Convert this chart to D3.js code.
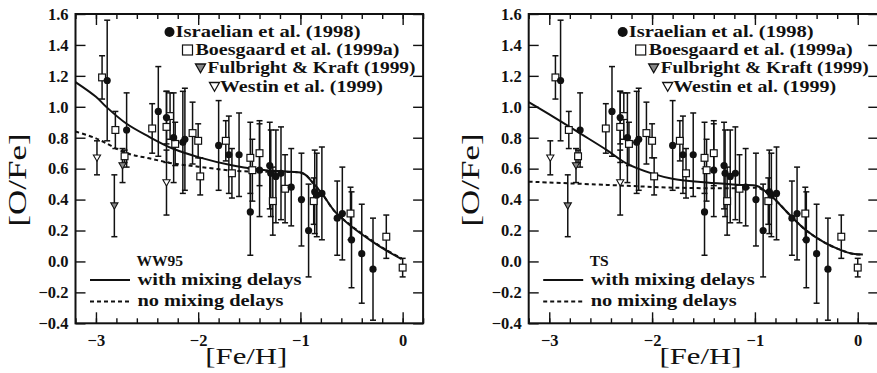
<!DOCTYPE html>
<html lang="en">
<head>
<meta charset="UTF-8">
<title>[O/Fe] vs [Fe/H]</title>
<script src="https://d3js.org/d3.v7.min.js"></script>
<style>
    body { margin: 0; background: #fff; }
    svg { display: block; }
    text { font-family: "Liberation Serif", "DejaVu Serif", serif; fill: #111; }
</style>
</head>
<body>
<div class="viz"></div>
<script>
// observations (same in both panels)
const israelianX = [-2.89, -2.70, -2.39, -2.31, -2.24, -2.15, -2.13, -1.80, -1.70, -1.60, -1.49, -1.40, -1.30, -1.29, -1.24, -1.19, -1.09, -0.99, -0.92, -0.86, -0.84, -0.79, -0.64, -0.59, -0.50, -0.40, -0.29];
const israelianY = [1.17, 0.85, 0.97, 0.93, 0.80, 0.77, 0.79, 0.75, 0.69, 0.69, 0.32, 0.59, 0.62, 0.57, 0.55, 0.57, 0.48, 0.40, 0.20, 0.45, 0.43, 0.44, 0.28, 0.31, 0.14, 0.05, -0.05];
const israelianErr = [0.39, 0.24, 0.29, 0.17, 0.29, 0.33, 0.33, 0.29, 0.25, 0.27, 0.28, 0.30, 0.28, 0.28, 0.30, 0.30, 0.25, 0.30, 0.30, 0.27, 0.27, 0.30, 0.24, 0.30, 0.31, 0.32, 0.33];

const boesgaardX = [-2.94, -2.81, -2.72, -2.45, -2.31, -2.275, -2.225, -2.055, -2.00, -1.98, -1.73, -1.67, -1.49, -1.47, -1.40, -1.27, -1.15, -0.87, -0.51, -0.16, 0.00];
const boesgaardY = [1.19, 0.85, 0.68, 0.86, 0.87, 0.94, 0.76, 0.83, 0.78, 0.55, 0.78, 0.57, 0.67, 0.59, 0.70, 0.39, 0.47, 0.39, 0.31, 0.16, -0.04];
const boesgaardErr = [0.14, 0.12, 0.04, 0.16, 0.23, 0.15, 0.14, 0.20, 0.11, 0.12, 0.13, 0.16, 0.23, 0.20, 0.21, 0.22, 0.22, 0.15, 0.17, 0.14, 0.06];

const fulbrightX = [-2.82, -2.74];
const fulbrightY = [0.36, 0.62];
const fulbrightErr = [0.20, 0.11];

const westinX = [-2.99, -2.31];
const westinY = [0.67, 0.51];
const westinErr = [0.11, 0.21];

// models
const ww95MixX = [-3.2, -3.0, -2.9, -2.7, -2.48, -2.25, -1.99, -1.66, -1.34, -1.1, -1.0, -0.95, -0.88, -0.79, -0.66, -0.5, -0.3, -0.17, -0.01];
const ww95MixY = [1.16, 1.065, 1.00, 0.89, 0.806, 0.73, 0.673, 0.62, 0.59, 0.58, 0.575, 0.56, 0.51, 0.44, 0.32, 0.226, 0.13, 0.075, 0.015];
const ww95NoX = [-3.2, -3.0, -2.7, -2.48, -2.25, -2.0, -1.66, -1.34, -1.1, -1.0, -0.95, -0.88, -0.79, -0.66, -0.5, -0.3, -0.17, -0.01];
const ww95NoY = [0.84, 0.796, 0.70, 0.667, 0.634, 0.613, 0.587, 0.58, 0.578, 0.575, 0.56, 0.51, 0.44, 0.32, 0.23, 0.135, 0.078, 0.02];

const tsMixX = [-3.2, -2.96, -2.70, -2.44, -2.25, -1.99, -1.79, -1.47, -1.15, -0.98, -0.93, -0.82, -0.66, -0.5, -0.33, -0.17, -0.05, 0.05];
const tsMixY = [1.03, 0.935, 0.828, 0.72, 0.634, 0.566, 0.533, 0.51, 0.495, 0.488, 0.47, 0.41, 0.30, 0.20, 0.125, 0.075, 0.05, 0.045];
const tsNoX = [-3.2, -2.44, -1.79, -1.15, -0.98, -0.93, -0.82, -0.66, -0.5, -0.33, -0.17, -0.05, 0.05];
const tsNoY = [0.516, 0.495, 0.477, 0.473, 0.476, 0.465, 0.41, 0.30, 0.20, 0.125, 0.075, 0.05, 0.045];

const xMajor = [-3, -2, -1, 0];
const yTicks = [-0.4, -0.2, 0.0, 0.2, 0.4, 0.6, 0.8, 1.0, 1.2, 1.4, 1.6];

const legendNames = ["Israelian et al. (1998)", "Boesgaard et al. (1999a)", "Fulbright & Kraft (1999)", "Westin et al. (1999)"];

const FONT = '"Liberation Serif", "DejaVu Serif", serif';
const width = 877, height = 373;
const svg = d3.select('.viz').append('svg')
    .attr('width', width)
    .attr('height', height);

const zip = (xs, ys, es) => xs.map((x, i) => ({x: x, y: ys[i], e: es ? es[i] : 0}));

function drawPanel(x0, x1, modelName, mixX, mixY, noX, noY) {
    const x = d3.scaleLinear().domain([-3.2, 0.2]).range([x0, x1]);
    const y = d3.scaleLinear().domain([-0.4, 1.6]).range([323.3, 14]);
    const g = svg.append('g');

    // ticks, all pointing inward
    const minor = d3.range(-3.2, 0.21, 0.2).map(v => Math.round(v * 10) / 10);
    const bottom = g.append('g').attr('transform', `translate(0,${y(-0.4)})`)
        .call(d3.axisBottom(x).tickValues(minor).tickSize(-5).tickFormat(''));
    bottom.append('g').call(d3.axisBottom(x).tickValues(xMajor).tickSize(-11).tickFormat(d3.format('d')));
    const top = g.append('g').attr('transform', `translate(0,${y(1.6)})`)
        .call(d3.axisTop(x).tickValues(minor).tickSize(-5).tickFormat(''));
    top.append('g').call(d3.axisTop(x).tickValues(xMajor).tickSize(-11).tickFormat(''));
    g.append('g').attr('transform', `translate(${x0},0)`)
        .call(d3.axisLeft(y).tickValues(yTicks).tickSize(-10).tickPadding(7).tickFormat(d3.format('.1f')));
    g.append('g').attr('transform', `translate(${x1},0)`)
        .call(d3.axisRight(y).tickValues(yTicks).tickSize(-10).tickFormat(''));

    g.selectAll('.domain').remove();
    g.selectAll('.tick line').attr('stroke', '#111').attr('stroke-width', 1.4);
    g.selectAll('.tick text')
        .style('font-family', FONT)
        .style('font-weight', 'bold')
        .style('font-size', '16.5px')
        .attr('fill', '#111');
    bottom.selectAll('.tick text').attr('dy', '0').attr('y', 23);

    g.append('rect')
        .attr('x', x0).attr('y', y(1.6))
        .attr('width', x1 - x0).attr('height', y(-0.4) - y(1.6))
        .attr('fill', 'none').attr('stroke', '#111').attr('stroke-width', 2);

    // axis titles
    g.append('text')
        .attr('x', (x0 + x1) / 2 - 3).attr('y', 364)
        .attr('text-anchor', 'middle')
        .attr('textLength', 82).attr('lengthAdjust', 'spacingAndGlyphs')
        .style('font-size', '24px')
        .text('[Fe/H]');
    g.append('text')
        .attr('transform', `translate(${x0 - 50},180) rotate(-90)`)
        .attr('text-anchor', 'middle')
        .attr('textLength', 93).attr('lengthAdjust', 'spacingAndGlyphs')
        .style('font-size', '25px')
        .text('[O/Fe]');

    // model curves
    const line = d3.line().x(d => x(d.x)).y(d => y(d.y)).curve(d3.curveCatmullRom);
    g.append('path').datum(zip(noX, noY))
        .attr('d', line).attr('fill', 'none')
        .attr('stroke', '#111').attr('stroke-width', 2).attr('stroke-dasharray', '4,3');
    g.append('path').datum(zip(mixX, mixY))
        .attr('d', line).attr('fill', 'none')
        .attr('stroke', '#111').attr('stroke-width', 2);

    // error bars
    const allPts = [].concat(
        zip(israelianX, israelianY, israelianErr),
        zip(boesgaardX, boesgaardY, boesgaardErr),
        zip(fulbrightX, fulbrightY, fulbrightErr),
        zip(westinX, westinY, westinErr));
    const eb = g.append('g').attr('stroke', '#111').attr('stroke-width', 1.5);
    allPts.forEach(d => {
        const cx = x(d.x), yt = y(d.y + d.e), yb = y(d.y - d.e);
        eb.append('line').attr('x1', cx).attr('x2', cx).attr('y1', yt).attr('y2', yb);
        eb.append('line').attr('x1', cx - 3).attr('x2', cx + 3).attr('y1', yt).attr('y2', yt);
        eb.append('line').attr('x1', cx - 3).attr('x2', cx + 3).attr('y1', yb).attr('y2', yb);
    });

    // symbols
    const tri = s => `M${-s},${-s * 0.8}L${s},${-s * 0.8}L0,${s * 0.95}Z`;
    g.append('g').selectAll('rect').data(zip(boesgaardX, boesgaardY))
        .join('rect')
        .attr('x', d => x(d.x) - 3.4).attr('y', d => y(d.y) - 3.4)
        .attr('width', 6.8).attr('height', 6.8)
        .attr('fill', '#fff').attr('stroke', '#111').attr('stroke-width', 1.2);
    g.append('g').selectAll('path').data(zip(westinX, westinY))
        .join('path')
        .attr('transform', d => `translate(${x(d.x)},${y(d.y)})`)
        .attr('d', tri(3.6))
        .attr('fill', '#fff').attr('stroke', '#111').attr('stroke-width', 1.1);
    g.append('g').selectAll('path').data(zip(fulbrightX, fulbrightY))
        .join('path')
        .attr('transform', d => `translate(${x(d.x)},${y(d.y)})`)
        .attr('d', tri(3.6))
        .attr('fill', '#888').attr('stroke', '#111').attr('stroke-width', 1.1);
    g.append('g').selectAll('circle').data(zip(israelianX, israelianY))
        .join('circle')
        .attr('cx', d => x(d.x)).attr('cy', d => y(d.y)).attr('r', 3.6)
        .attr('fill', '#111');

    // legend, upper
    const lw = [185, 204, 208, 163];
    const lTextX = [100, 120, 132, 144.5];
    const lMarkX = [94, 112, 125, 139];
    const lBase = [37, 55, 73, 91.5];
    legendNames.forEach((name, i) => {
        g.append('text')
            .attr('x', x0 + lTextX[i]).attr('y', lBase[i])
            .attr('textLength', lw[i]).attr('lengthAdjust', 'spacingAndGlyphs')
            .style('font-size', '16px').style('font-weight', 'bold')
            .text(name);
    });
    const my = lBase.map(b => b - 5);
    g.append('circle').attr('cx', x0 + lMarkX[0]).attr('cy', my[0]).attr('r', 5).attr('fill', '#111');
    g.append('rect').attr('x', x0 + lMarkX[1] - 5).attr('y', my[1] - 5)
        .attr('width', 10).attr('height', 10)
        .attr('fill', '#fff').attr('stroke', '#111').attr('stroke-width', 1.2);
    g.append('path').attr('transform', `translate(${x0 + lMarkX[2]},${my[2]})`)
        .attr('d', tri(5)).attr('fill', '#888').attr('stroke', '#111').attr('stroke-width', 1.3);
    g.append('path').attr('transform', `translate(${x0 + lMarkX[3]},${my[3]})`)
        .attr('d', tri(5)).attr('fill', '#fff').attr('stroke', '#111').attr('stroke-width', 1.3);

    // legend, lower
    g.append('text')
        .attr('x', x0 + 61).attr('y', 266)
        .style('font-size', '15.5px').style('font-weight', 'bold')
        .text(modelName);
    g.append('line').attr('x1', x0 + 14.5).attr('x2', x0 + 54.5).attr('y1', 280).attr('y2', 280)
        .attr('stroke', '#111').attr('stroke-width', 2);
    g.append('line').attr('x1', x0 + 14.5).attr('x2', x0 + 54.5).attr('y1', 301.5).attr('y2', 301.5)
        .attr('stroke', '#111').attr('stroke-width', 2).attr('stroke-dasharray', '4,3');
    g.append('text')
        .attr('x', x0 + 62).attr('y', 285)
        .attr('textLength', 164).attr('lengthAdjust', 'spacingAndGlyphs')
        .style('font-size', '16px').style('font-weight', 'bold')
        .text('with mixing delays');
    g.append('text')
        .attr('x', x0 + 62).attr('y', 306)
        .attr('textLength', 146).attr('lengthAdjust', 'spacingAndGlyphs')
        .style('font-size', '16px').style('font-weight', 'bold')
        .text('no mixing delays');
}

drawPanel(75.5, 423.1, 'WW95', ww95MixX, ww95MixY, ww95NoX, ww95NoY);
drawPanel(528.7, 878.3, 'TS', tsMixX, tsMixY, tsNoX, tsNoY);
</script>
</body>
</html>
